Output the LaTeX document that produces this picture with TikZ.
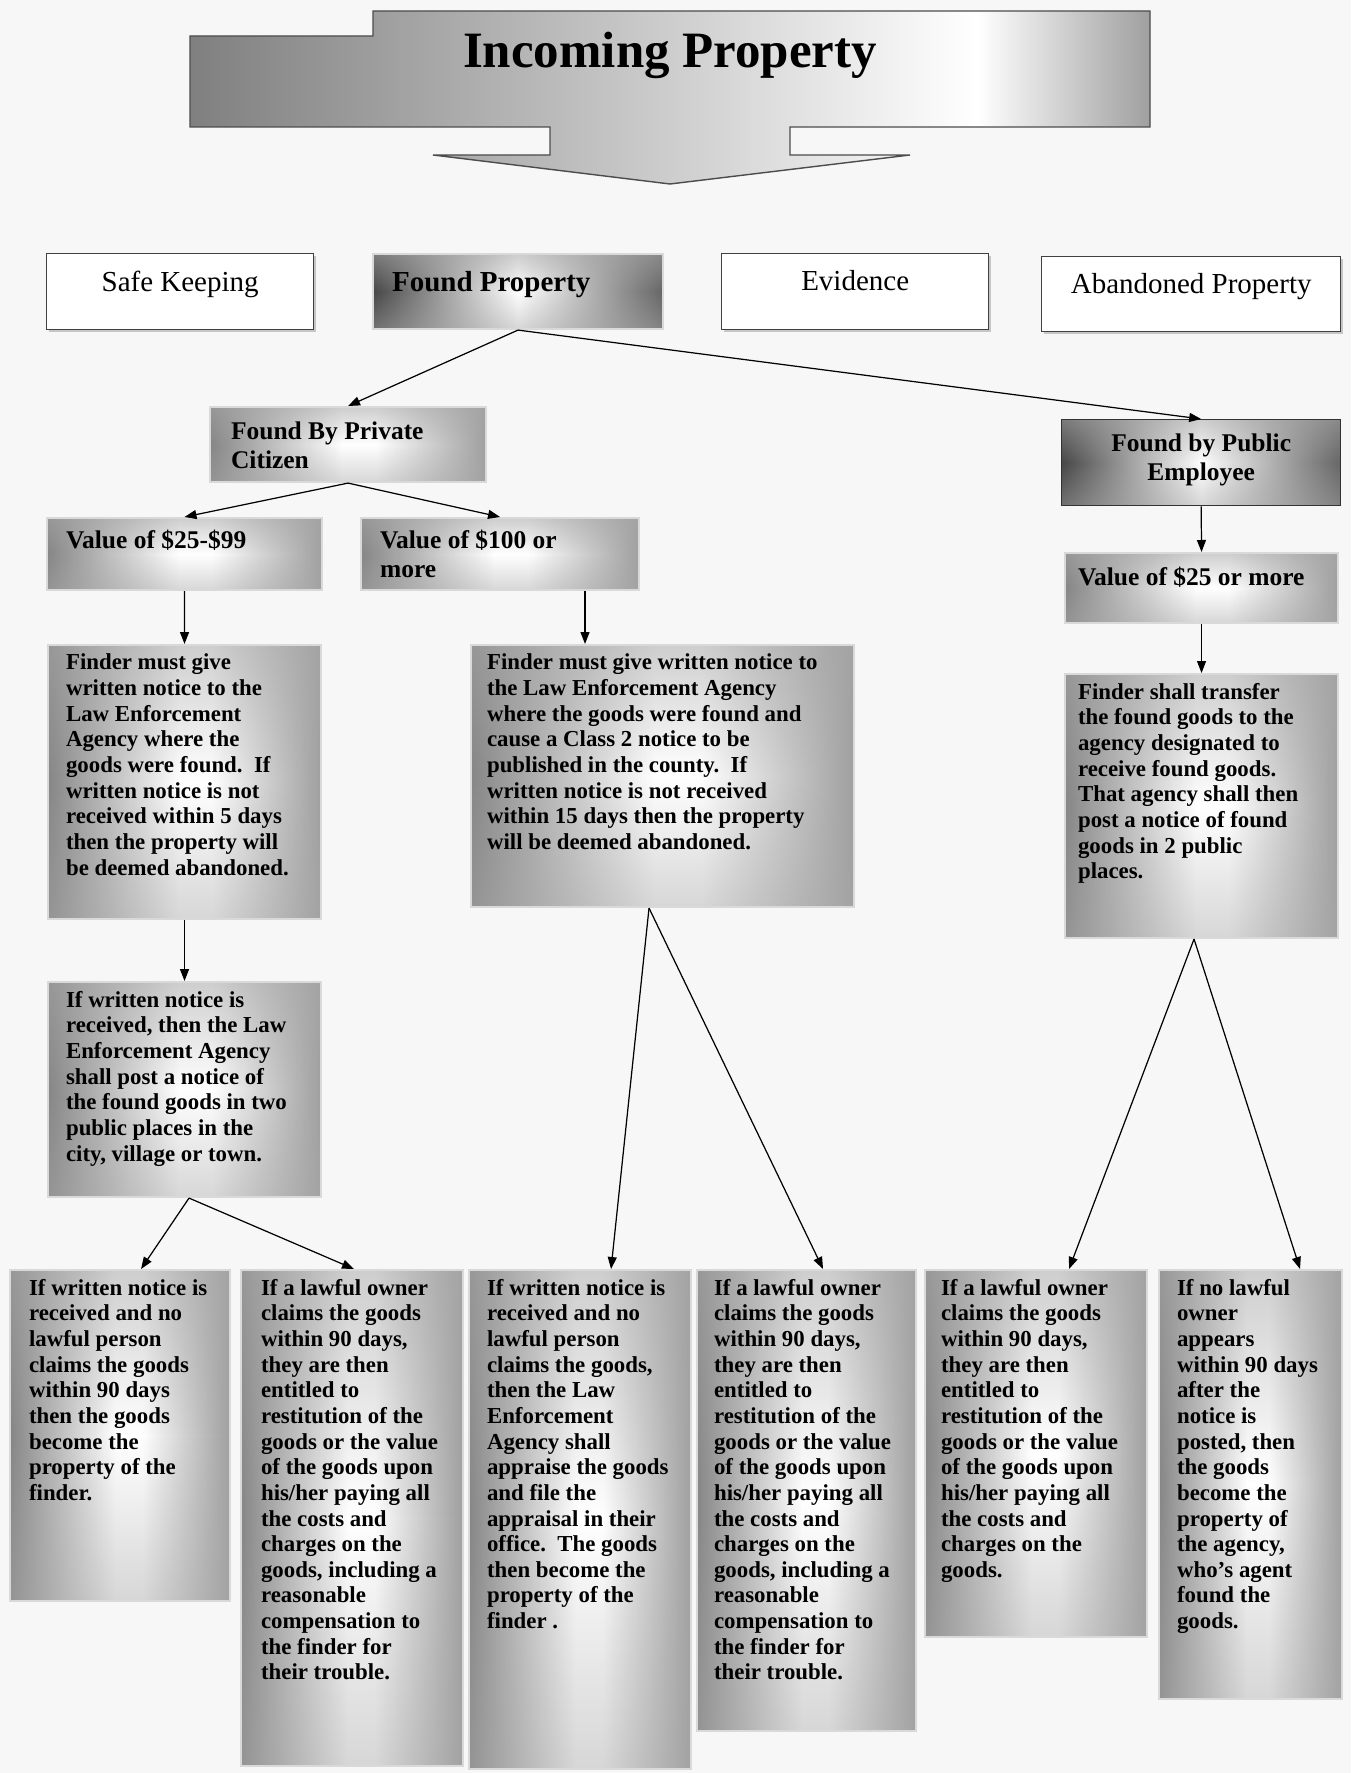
\documentclass[tikz,border=0pt]{standalone}
\usepackage{fontspec}
\setmainfont{Liberation Serif}
\usepackage{tikz}
\usetikzlibrary{arrows.meta}
\usetikzlibrary{shadows}
\usetikzlibrary{fadings}

\pgfdeclarehorizontalshading{metal}{100bp}{color(0bp)=(gray!95); color(25bp)=(gray!95); color(49bp)=(white); color(55bp)=(white); color(75bp)=(gray!75); color(100bp)=(gray!75)}
\pgfdeclarehorizontalshading{darkmetal}{100bp}{color(0bp)=(black!72); color(25bp)=(black!72); color(50bp)=(white); color(75bp)=(black!60); color(100bp)=(black!60)}
\pgfdeclarehorizontalshading{banner}{100bp}{color(0bp)=(gray); color(25bp)=(gray); color(66bp)=(white); color(75bp)=(gray!75); color(100bp)=(gray!75)}
\tikzfading[name=rimfade, top color=transparent!45, bottom color=transparent!55, middle color=transparent!100]

\newcommand{\boxcell}[3]{\parbox[t][#2][t]{#1}{\raggedright #3}}

\begin{document}
\begin{tikzpicture}[x=0.02cm, y=-0.02cm,
  metalbox/.style={anchor=north west, shade, shading=metal, draw=gray!30, line width=1.2pt,
    path picture={\fill[gray!70, path fading=rimfade] (path picture bounding box.south west) rectangle (path picture bounding box.north east);}},
  darkbox/.style={metalbox, shading=darkmetal},
  plainbox/.style={anchor=north west, fill=white, draw=black!75, line width=0.8pt,
    drop shadow={shadow xshift=1.5pt, shadow yshift=-1.5pt, fill=gray!70, opacity=0.6}},
  toptext/.style={font=\fontsize{16.5}{19}\selectfont, inner xsep=0pt, inner ysep=0.34cm},
  headtext/.style={font=\fontsize{14.5}{16.5}\selectfont\bfseries, inner ysep=0.27cm},
  bodytext/.style={font=\fontsize{13}{14.6}\selectfont\bfseries, inner ysep=0.18cm},
  arr/.style={-{Triangle[length=2.4mm,width=1.8mm]}, line width=0.7pt}]

  \fill[black!3] (0,0) rectangle (1351,1773);

  % banner
  \shadedraw[shading=banner, draw=black!70, line width=0.8pt]
    (190,36) -- (373,36) -- (373,11) -- (1150,11) -- (1150,127) -- (790,127) -- (790,155)
    -- (910,155) -- (670,184) -- (433,155) -- (550,155) -- (550,127) -- (190,127) -- cycle;
  \node[anchor=base, font=\fontsize{29}{32}\selectfont\bfseries] (title) at (670,68) {Incoming Property};

  % kinds of property
  \node[plainbox, toptext] (safe) at (46,253) {\boxcell{5.34cm}{0.84cm}{\centering Safe Keeping}};
  \node[darkbox, toptext, font=\fontsize{16.5}{19}\selectfont\bfseries, inner xsep=0.38cm] (found) at (372,253) {\boxcell{5.04cm}{0.82cm}{Found Property}};
  \node[plainbox, toptext] (evid) at (721,253) {\boxcell{5.34cm}{0.84cm}{\centering Evidence}};
  \node[plainbox, toptext] (aband) at (1041,256) {\boxcell{5.98cm}{0.82cm}{\centering Abandoned Property}};

  % who found it
  \node[metalbox, headtext, inner xsep=0.42cm, inner ysep=0.29cm] (priv) at (209,406) {\boxcell{4.68cm}{0.92cm}{Found By Private\\Citizen}};
  \node[darkbox, headtext, draw=black!80, line width=0.8pt, inner xsep=0.2cm, inner ysep=0.29cm] (pub) at (1061,419) {\boxcell{5.18cm}{1.14cm}{\centering Found by Public\\Employee}};

  % values
  \node[metalbox, headtext, inner xsep=0.38cm, inner ysep=0.25cm] (vlow) at (46,517) {\boxcell{4.74cm}{0.94cm}{Value of \$25-\$99}};
  \node[metalbox, headtext, inner xsep=0.38cm, inner ysep=0.25cm] (vhigh) at (360,517) {\boxcell{4.8cm}{0.94cm}{Value of \$100 or\\more}};
  \node[metalbox, headtext, inner xsep=0.26cm] (vpub) at (1064,552) {\boxcell{4.94cm}{0.86cm}{Value of \$25 or more}};

  % notices
  \node[metalbox, bodytext, inner xsep=0.36cm] (finda) at (47,644) {\boxcell{4.74cm}{5.12cm}{Finder must give\\written notice to the\\Law Enforcement\\Agency where the\\goods were found.\ \ If\\written notice is not\\received within 5 days\\then the property will\\be deemed abandoned.}};
  \node[metalbox, bodytext, inner xsep=0.32cm] (findb) at (470,644) {\boxcell{7.02cm}{4.88cm}{Finder must give written notice to\\the Law Enforcement Agency\\where the goods were found and\\cause a Class 2 notice to be\\published in the county.\ \ If\\written notice is not received\\within 15 days then the property\\will be deemed abandoned.}};
  \node[metalbox, bodytext, inner xsep=0.26cm] (findc) at (1064,673) {\boxcell{4.94cm}{4.92cm}{Finder shall transfer\\the found goods to the\\agency designated to\\receive found goods.\\That agency shall then\\post a notice of found\\goods in 2 public\\places.}};
  \node[metalbox, bodytext, inner xsep=0.36cm] (post) at (47,981) {\boxcell{4.74cm}{3.94cm}{If written notice is\\received, then the Law\\Enforcement Agency\\shall post a notice of\\the found goods in two\\public places in the\\city, village or town.}};

  % outcomes
  \node[metalbox, bodytext, inner xsep=0.38cm] (claima) at (9,1269) {\boxcell{3.64cm}{6.26cm}{If written notice is\\received and no\\lawful person\\claims the goods\\within 90 days\\then the goods\\become the\\property of the\\finder.}};
  \node[metalbox, bodytext, inner xsep=0.4cm] (owna) at (240,1269) {\boxcell{3.64cm}{9.56cm}{If a lawful owner\\claims the goods\\within 90 days,\\they are then\\entitled to\\restitution of the\\goods or the value\\of the goods upon\\his/her paying all\\the costs and\\charges on the\\goods, including a\\reasonable\\compensation to\\the finder for\\their trouble.}};
  \node[metalbox, bodytext, inner xsep=0.36cm] (claimb) at (468,1269) {\boxcell{3.72cm}{9.62cm}{If written notice is\\received and no\\lawful person\\claims the goods,\\then the Law\\Enforcement\\Agency shall\\appraise the goods\\and file the\\appraisal in their\\office.\ \ The goods\\then become the\\property of the\\finder .}};
  \node[metalbox, bodytext, inner xsep=0.34cm] (ownb) at (696,1269) {\boxcell{3.7cm}{8.86cm}{If a lawful owner\\claims the goods\\within 90 days,\\they are then\\entitled to\\restitution of the\\goods or the value\\of the goods upon\\his/her paying all\\the costs and\\charges on the\\goods, including a\\reasonable\\compensation to\\the finder for\\their trouble.}};
  \node[metalbox, bodytext, inner xsep=0.32cm] (ownc) at (924,1269) {\boxcell{3.8cm}{6.98cm}{If a lawful owner\\claims the goods\\within 90 days,\\they are then\\entitled to\\restitution of the\\goods or the value\\of the goods upon\\his/her paying all\\the costs and\\charges on the\\goods.}};
  \node[metalbox, bodytext, inner xsep=0.36cm] (agency) at (1158,1269) {\boxcell{2.94cm}{8.22cm}{If no lawful\\owner\\appears\\within 90 days\\after the\\notice is\\posted, then\\the goods\\become the\\property of\\the agency,\\who's agent\\found the\\goods.}};

  \foreach \from/\to in {found/priv,found/pub,priv/vlow,priv/vhigh,pub/vpub,vlow/finda,vpub/findc,finda/post}
    \draw[arr] (\from.south) -- (\to.north);
  \draw[arr] ([xshift=1.7cm]vhigh.south) -- ([xshift=1.7cm]vhigh.south |- findb.north);
  \foreach \from/\to/\sx/\tx in {post/claima/0.09/0.42,post/owna/0.09/0.04,findb/claimb/-0.27/0.62,
      findb/ownb/-0.27/0.33,findc/ownc/-0.15/0.66,findc/agency/-0.15/0.99}
    \draw[arr] ([xshift=\sx cm]\from.south) -- ([xshift=\tx cm]\to.north);

\end{tikzpicture}
\end{document}
